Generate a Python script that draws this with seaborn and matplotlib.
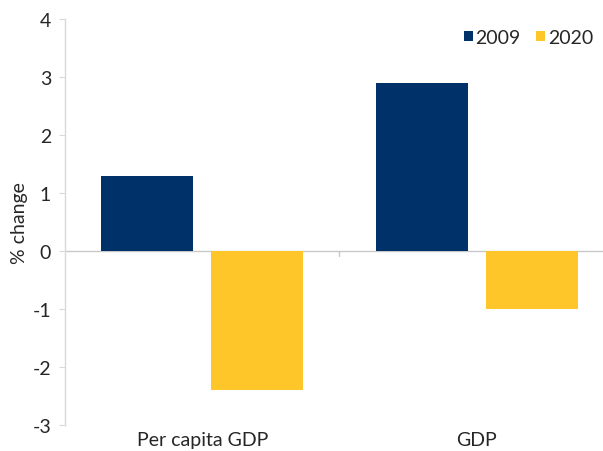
import matplotlib
matplotlib.use('Agg')
import matplotlib.pyplot as plt
import seaborn as sns
import pandas as pd

categories = ['Per capita GDP', 'GDP']
years = ['2009', '2020']
values_2009 = [1.3, 2.9]
values_2020 = [-2.4, -1.0]
colors = ['#003168', '#FFC629']

df = pd.DataFrame({
    'category': categories * 2,
    'year': [years[0]] * 2 + [years[1]] * 2,
    'value': values_2009 + values_2020,
})

sns.set_style('white')
plt.rcParams['font.family'] = ['Lato', 'DejaVu Sans']
plt.rcParams['axes.unicode_minus'] = False

fig = plt.figure(figsize=(6.03, 4.52), dpi=100)
ax = fig.add_axes([65 / 603, 26 / 452, 538 / 603, 406 / 452])

sns.barplot(data=df, x='category', y='value', hue='year', palette=colors,
            width=0.8, gap=0.16, saturation=1, linewidth=0, ax=ax, legend=True)

ax.set_ylim(-3, 4)
ax.set_yticks(range(-3, 5))
ax.set_xlim(-0.5, 1.46)
ax.axhline(0, color='#c8c8c8', lw=1, zorder=0)
ax.plot([0.5, 0.5], [0, -0.08], color='#c8c8c8', lw=1)

for s in ['top', 'right', 'bottom']:
    ax.spines[s].set_visible(False)
ax.spines['left'].set_color('#d9d9d9')
ax.spines['left'].set_linewidth(1)

ax.tick_params(axis='y', length=4, color='#d9d9d9', labelsize=14, pad=6, left=True)
ax.tick_params(axis='x', length=0, labelsize=14, pad=4)
ax.set_xlabel('')
ax.set_ylabel('% change', fontsize=14, labelpad=3)

leg = ax.legend(loc='upper right', bbox_to_anchor=(1.0, 1.0), frameon=False,
                ncol=2, fontsize=14, handlelength=0.45, handleheight=0.45,
                handletextpad=0.15, columnspacing=0.8, borderaxespad=0.1)

fig.savefig('out.png', dpi=100)
